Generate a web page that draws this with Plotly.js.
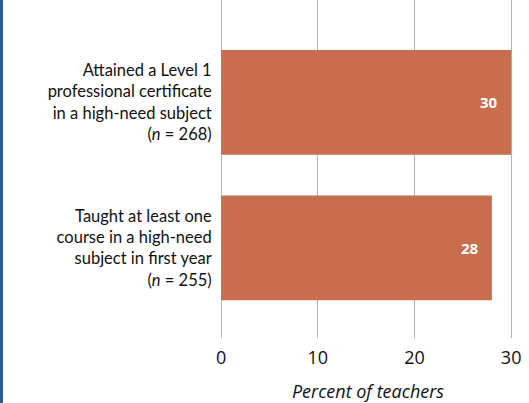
<!DOCTYPE html>
<html><head><meta charset="utf-8">
<script src="https://cdn.plot.ly/plotly-3.0.1.min.js"></script>
<style>
html,body{margin:0;padding:0;background:#fff;}
#wrap{width:526px;height:403px;border-left:3px solid #2e5d92;}
#chart{width:526px;height:403px;}
</style></head>
<body><div id="wrap"><div id="chart"></div></div>
<script>
const categories = [
  "Attained a Level 1<br>professional certificate<br>in a high-need subject<br>(<i>n</i> = 268)",
  "Taught at least one<br>course in a high-need<br>subject in first year<br>(<i>n</i> = 255)"
];
const values = [30, 28];
const valueLabels = ["30", "28"];
const xTicks = [0, 10, 20, 30];

const trace = {
  type: 'bar', orientation: 'h',
  y: categories, x: values,
  textposition: 'none',
  marker: {color: '#c86d4e'},
  width: 0.72, hoverinfo: 'none'
};
const annotations = values.map((v, i) => ({
  x: v, y: categories[i], xref: 'x', yref: 'y',
  text: '<b>' + valueLabels[i] + '</b>', showarrow: false,
  xanchor: 'right', yanchor: 'middle', xshift: -11,
  font: {family: 'Open Sans', size: 15, color: '#ffffff'}
}));
const layout = {
  width: 526, height: 403,
  margin: {l: 217, r: 13, t: 0, b: 65},
  paper_bgcolor: '#fff', plot_bgcolor: '#fff',
  showlegend: false,
  font: {family: 'Lato, Open Sans, sans-serif', color: '#111'},
  annotations: annotations,
  xaxis: {
    range: [-0.12, 30.5], tickvals: xTicks, ticktext: xTicks.map(String),
    showgrid: true, gridcolor: '#b4b4b4', gridwidth: 1, zeroline: false, showline: false,
    ticks: 'outside', ticklen: 3, tickcolor: 'rgba(0,0,0,0)',
    tickfont: {family: 'Open Sans', size: 18, color: '#111'},
    title: {text: '<i>Percent of teachers</i>', font: {family: 'Open Sans', size: 18, color: '#111'}, standoff: 32}
  },
  yaxis: {
    type: 'category', range: [1.619, -0.704],
    showgrid: false, zeroline: false, showline: false,
    ticks: 'outside', ticklen: 4, tickcolor: 'rgba(0,0,0,0)',
    tickfont: {family: 'Lato', size: 16.5, color: '#111'}
  }
};
Plotly.newPlot('chart', [trace], layout, {staticPlot: true, displayModeBar: false});
</script></body></html>
